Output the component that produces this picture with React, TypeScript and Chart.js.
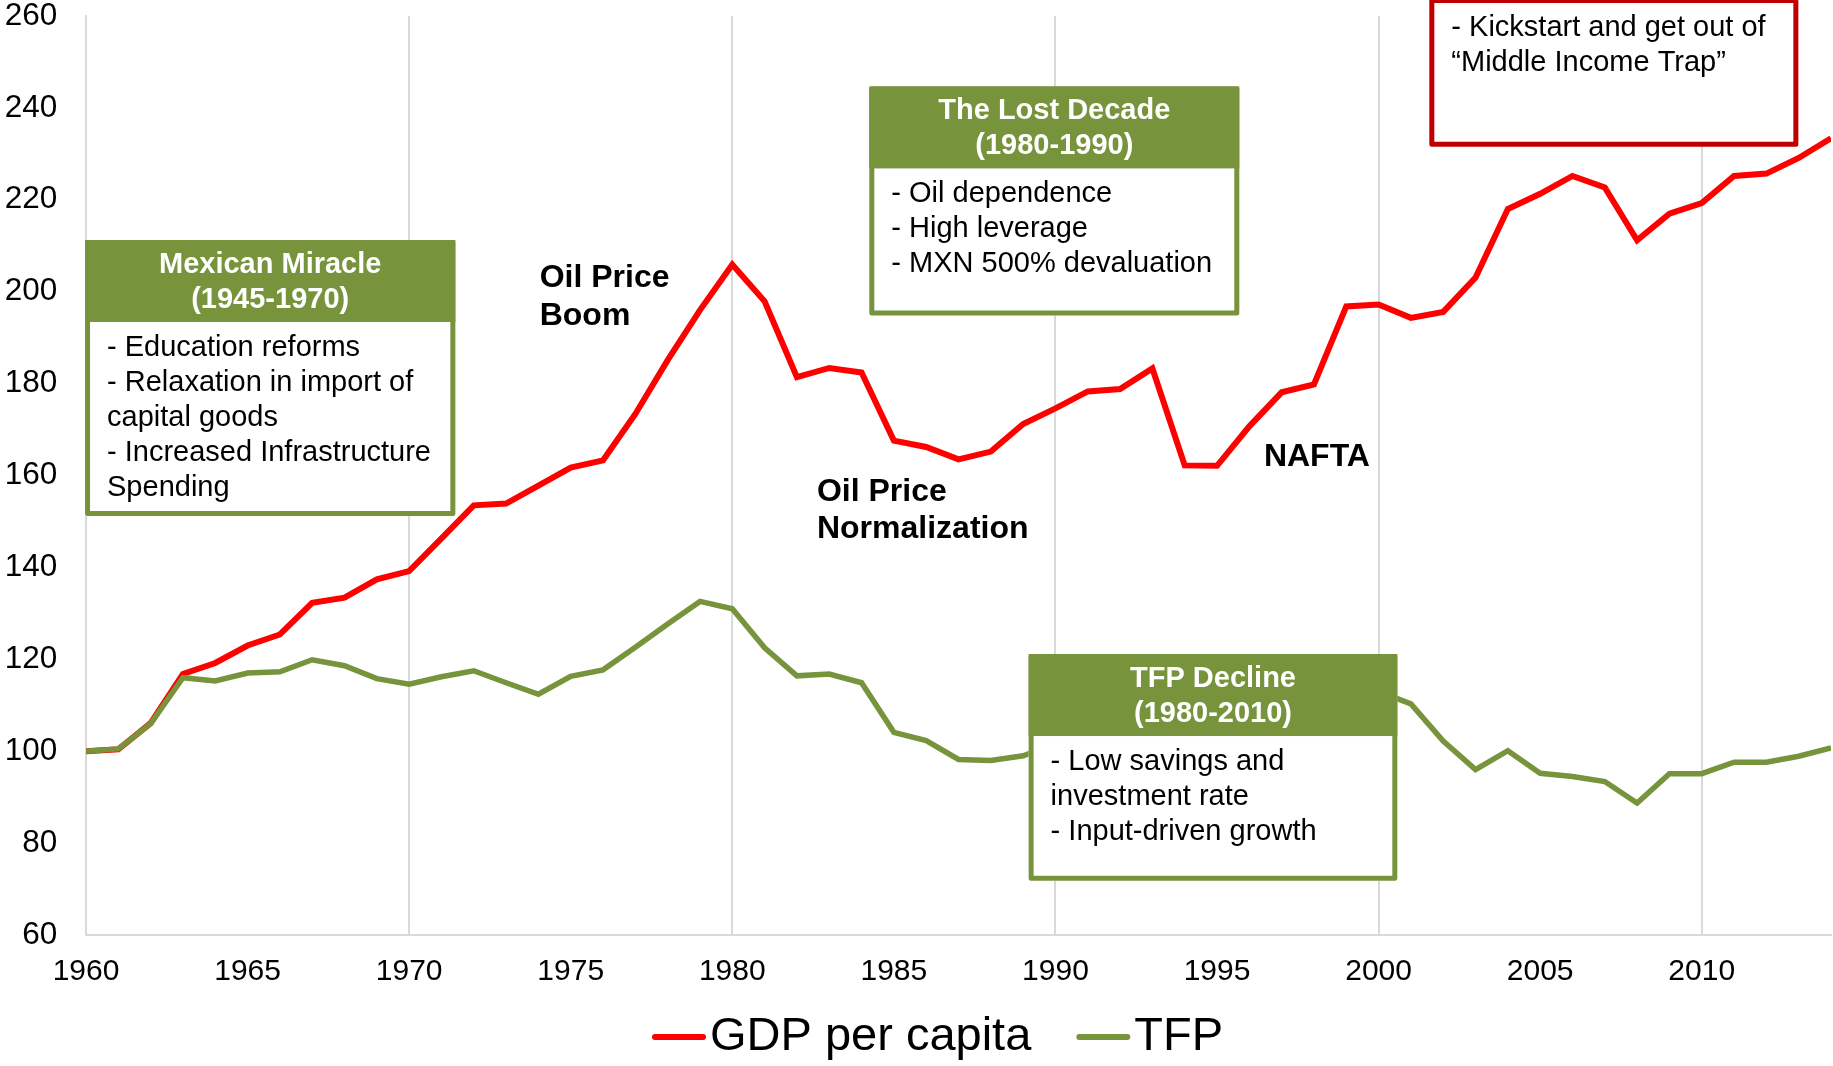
import React, { useEffect, useRef } from 'react';
import { Chart, registerables } from 'chart.js';

Chart.register(...registerables);

// ---------------- data ----------------
const years = [
  1960, 1961, 1962, 1963, 1964, 1965, 1966, 1967, 1968, 1969,
  1970, 1971, 1972, 1973, 1974, 1975, 1976, 1977, 1978, 1979,
  1980, 1981, 1982, 1983, 1984, 1985, 1986, 1987, 1988, 1989,
  1990, 1991, 1992, 1993, 1994, 1995, 1996, 1997, 1998, 1999,
  2000, 2001, 2002, 2003, 2004, 2005, 2006, 2007, 2008, 2009,
  2010, 2011, 2012, 2013, 2014,
];

const gdpPerCapita = [
  100.0, 100.4, 106.1, 116.8, 119.2, 123.0, 125.4, 132.3, 133.4, 137.4,
  139.2, 146.3, 153.5, 153.9, 157.8, 161.7, 163.3, 173.4, 185.1, 196.0,
  205.9, 197.9, 181.4, 183.4, 182.4, 167.6, 166.2, 163.5, 165.2, 171.2,
  174.6, 178.3, 178.8, 183.3, 162.2, 162.1, 170.7, 178.1, 179.8, 196.8,
  197.2, 194.3, 195.6, 203.1, 218.0, 221.3, 225.2, 222.7, 211.2, 217.0,
  219.3, 225.2, 225.7, 229.1, 233.4,
];

const tfp = [
  100.0, 100.5, 106.0, 116.0, 115.3, 117.0, 117.3, 119.9, 118.6, 115.8,
  114.6, 116.2, 117.5, 114.9, 112.4, 116.3, 117.7, 122.6, 127.7, 132.6,
  131.0, 122.5, 116.4, 116.8, 114.9, 104.1, 102.3, 98.2, 98.0, 99.0,
  101.6, 102.0, 101.5, 100.5, 101.5, 96.0, 98.5, 102.0, 104.0, 107.0,
  113.0, 110.3, 102.2, 96.0, 100.1, 95.2, 94.5, 93.4, 88.7, 95.1,
  95.1, 97.6, 97.6, 98.9, 100.7,
];

const seriesLabels = ['GDP per capita', 'TFP'];
const xMin = 1960;
const xMax = 2014;
const xTickStep = 5;
const xGridStep = 10;
const yMin = 60;
const yMax = 260;
const yTickStep = 20;

// annotation boxes (data coordinates: years / index values)
type Box = {
  kind: 'green' | 'red';
  title: string[];
  body: string[];
  x0: number;
  x1: number;
  yTop: number;
  yBottom: number;
};

const boxes: Box[] = [
  {
    kind: 'green',
    title: ['Mexican Miracle', '(1945-1970)'],
    body: [
      '- Education reforms',
      '- Relaxation in import of',
      'capital goods',
      '- Increased Infrastructure',
      'Spending',
    ],
    x0: 1959.97, x1: 1971.43, yTop: 211.25, yBottom: 151.19,
  },
  {
    kind: 'green',
    title: ['The Lost Decade', '(1980-1990)'],
    body: ['- Oil dependence', '- High leverage', '- MXN 500% devaluation'],
    x0: 1984.24, x1: 1995.69, yTop: 244.68, yBottom: 194.84,
  },
  {
    kind: 'green',
    title: ['TFP Decline', '(1980-2010)'],
    body: ['- Low savings and', 'investment rate', '- Input-driven growth'],
    x0: 1989.17, x1: 2000.58, yTop: 121.15, yBottom: 71.82,
  },
  {
    kind: 'red',
    title: [],
    body: ['- Kickstart and get out of', '\u201CMiddle Income Trap\u201D'],
    x0: 2001.57, x1: 2012.99, yTop: 263.9, yBottom: 231.56,
  },
];

const textNotes = [
  { lines: ['Oil Price', 'Boom'], x: 1974.04, y: 202.85 },
  { lines: ['Oil Price', 'Normalization'], x: 1982.62, y: 156.41 },
  { lines: ['NAFTA'], x: 1996.45, y: 164.03 },
];

// ---------------- styles ----------------
const FONT = "'Liberation Sans', Arial, Helvetica, sans-serif";
const RED = '#FF0000';
const GREEN = '#77933C';
const DARK_RED = '#C00000';
const GRID = '#D9D9D9';

const annotationPlugin = {
  id: 'annotationsAndLegend',
  afterDatasetsDraw(chart: any) {
    const { ctx } = chart;
    const xs = chart.scales.x;
    const ys = chart.scales.y;
    ctx.save();
    const bw = 5;
    for (const b of boxes) {
      const L = xs.getPixelForValue(b.x0);
      const R = xs.getPixelForValue(b.x1);
      const T = ys.getPixelForValue(b.yTop);
      const B = ys.getPixelForValue(b.yBottom);
      const color = b.kind === 'green' ? GREEN : DARK_RED;
      ctx.fillStyle = '#FFFFFF';
      ctx.fillRect(L, T, R - L, B - T);
      if (b.title.length) {
        ctx.fillStyle = color;
        ctx.fillRect(L, T, R - L, 82);
      }
      ctx.strokeStyle = color;
      ctx.lineWidth = bw;
      ctx.lineJoin = 'round';
      ctx.strokeRect(L + bw / 2, T + bw / 2, R - L - bw, B - T - bw);
      ctx.textBaseline = 'middle';
      if (b.title.length) {
        ctx.font = `bold 29px ${FONT}`;
        ctx.fillStyle = '#FFFFFF';
        ctx.textAlign = 'center';
        b.title.forEach((t, i) => ctx.fillText(t, (L + R) / 2, T + 25 + i * 35));
      }
      ctx.font = `29px ${FONT}`;
      ctx.fillStyle = '#000000';
      ctx.textAlign = 'left';
      const first = b.title.length ? 108 : 29.5;
      b.body.forEach((t, i) => ctx.fillText(t, L + 22, T + first + i * 35));
    }
    ctx.font = `bold 32px ${FONT}`;
    ctx.fillStyle = '#000000';
    ctx.textAlign = 'left';
    ctx.textBaseline = 'middle';
    for (const n of textNotes) {
      const px = xs.getPixelForValue(n.x);
      const py = ys.getPixelForValue(n.y);
      n.lines.forEach((t, i) => ctx.fillText(t, px, py + i * 37.5));
    }
    ctx.restore();
  },
  afterDraw(chart: any) {
    const { ctx } = chart;
    ctx.save();
    ctx.font = `47px ${FONT}`;
    ctx.textBaseline = 'middle';
    ctx.textAlign = 'left';
    const cy = 1037;
    let x = 652;
    chart.data.datasets.forEach((ds: any) => {
      ctx.strokeStyle = ds.borderColor;
      ctx.lineWidth = 6;
      ctx.lineCap = 'round';
      ctx.beginPath();
      ctx.moveTo(x + 3, cy);
      ctx.lineTo(x + 51, cy);
      ctx.stroke();
      x += 58;
      ctx.fillStyle = '#000000';
      ctx.fillText(ds.label, x, cy);
      x += ctx.measureText(ds.label).width + 45;
    });
    ctx.restore();
  },
};

export default function App() {
  const canvasRef = useRef<HTMLCanvasElement | null>(null);

  useEffect(() => {
    if (!canvasRef.current) return;
    const gdpPoints = years.map((yr, i) => ({ x: yr, y: gdpPerCapita[i] }));
    const tfpPoints = years.map((yr, i) => ({ x: yr, y: tfp[i] }));
    const chart = new Chart(canvasRef.current, {
      type: 'line',
      data: {
        datasets: [
          {
            label: seriesLabels[0],
            data: gdpPoints,
            borderColor: RED,
            backgroundColor: RED,
            borderWidth: 6,
            pointRadius: 0,
            tension: 0,
            order: 1,
          },
          {
            label: seriesLabels[1],
            data: tfpPoints,
            borderColor: GREEN,
            backgroundColor: GREEN,
            borderWidth: 5.5,
            pointRadius: 0,
            tension: 0,
            order: 0,
          },
        ],
      },
      options: {
        responsive: false,
        animation: false,
        devicePixelRatio: 1,
        layout: { padding: { left: 0, right: 2, top: 16, bottom: 71 } },
        plugins: {
          legend: { display: false },
          tooltip: { enabled: false },
        },
        scales: {
          x: {
            type: 'linear',
            min: xMin,
            max: xMax,
            afterFit: (s: any) => {
              s.height = 60;
              s.paddingLeft = 0;
              s.paddingRight = 0;
            },
            ticks: {
              stepSize: xTickStep,
              includeBounds: false,
              maxRotation: 0,
              autoSkip: false,
              padding: 19,
              color: '#000000',
              font: { family: FONT, size: 30 },
              callback: (v: any) => String(v),
            },
            grid: {
              drawTicks: false,
              lineWidth: 2,
              color: (c: any) =>
                c.tick && c.tick.value % xGridStep === 0 ? GRID : 'rgba(0,0,0,0)',
            },
            border: { display: true, color: GRID, width: 2 },
          },
          y: {
            min: yMin,
            max: yMax,
            afterFit: (s: any) => {
              s.width = 86;
              s.paddingTop = 0;
              s.paddingBottom = 0;
            },
            ticks: {
              stepSize: yTickStep,
              padding: 28.7,
              color: '#000000',
              font: { family: FONT, size: 31.5 },
              callback: (v: any) => String(v),
            },
            grid: { display: false, drawTicks: false },
            border: { display: true, color: GRID, width: 2 },
          },
        },
      },
      plugins: [annotationPlugin],
    } as any);
    return () => chart.destroy();
  }, []);

  return (
    <div style={{ position: 'absolute', left: 0, top: 0, width: 1833, height: 1066, background: '#FFFFFF' }}>
      <canvas ref={canvasRef} width={1833} height={1066} style={{ display: 'block' }} />
    </div>
  );
}
